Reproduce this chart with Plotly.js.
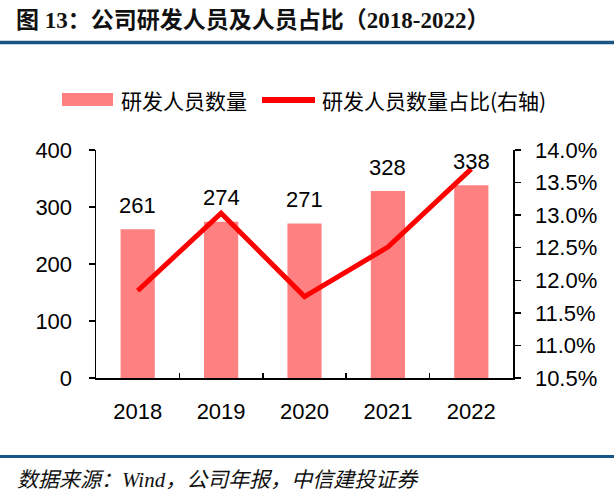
<!DOCTYPE html>
<html>
<head>
<meta charset="utf-8">
<script src="https://cdn.plot.ly/plotly-3.0.1.min.js"></script>
<style>html,body{margin:0;padding:0;background:#fff;}#chart{width:614px;height:499px;}</style>
</head>
<body>
<div id="chart"></div>
<script>
// Data
const years = ['2018', '2019', '2020', '2021', '2022'];
const staffCount = [261, 274, 271, 328, 338];
const staffRatio = [0.1184, 0.1303, 0.1175, 0.1251, 0.1371];
const barName = '研发人员数量';
const lineName = '研发人员数量占比(右轴)';
const titleText = '图 13：公司研发人员及人员占比（2018-2022）';
const sourceText = '数据来源：Wind，公司年报，中信建投证券';

const W = 614, H = 499;
const mL = 96, mR = 101, mT = 150, mB = 121;
const pw = W - mL - mR, ph = H - mT - mB;
const px = x => (x - mL) / pw;       // pixel x -> paper x
const py = y => (H - mB - y) / ph;   // pixel y -> paper y

const numFont = 'Liberation Sans, Arial, sans-serif';
const cjkFont = 'Noto Sans CJK SC, sans-serif';

const traces = [
  {
    type: 'bar', x: years, y: staffCount, name: barName,
    marker: {color: '#FF8080'}, hoverinfo: 'skip', showlegend: false
  },
  {
    type: 'scatter', mode: 'lines', x: years, y: staffRatio, name: lineName,
    yaxis: 'y2', line: {color: '#FF0000', width: 5}, hoverinfo: 'skip', showlegend: false
  }
];

const annotations = years.map((yr, i) => ({
  x: i, y: staffCount[i], xref: 'x', yref: 'y', text: String(staffCount[i]),
  showarrow: false, yanchor: 'middle', yshift: 24,
  font: {family: numFont, size: 22, color: '#000'}
}));

// legend texts
annotations.push({
  xref: 'paper', yref: 'paper', x: px(119), y: py(100), xanchor: 'left', yanchor: 'middle',
  text: barName, showarrow: false, font: {family: cjkFont, size: 21, color: '#000'}
});
annotations.push({
  xref: 'paper', yref: 'paper', x: px(320), y: py(100), xanchor: 'left', yanchor: 'middle',
  text: lineName, showarrow: false, font: {family: cjkFont, size: 21, color: '#000'}
});
// source
annotations.push({
  xref: 'paper', yref: 'paper', x: px(15), y: py(480), xanchor: 'left', yanchor: 'middle',
  text: sourceText, showarrow: false,
  font: {family: 'Liberation Serif, Noto Sans CJK SC, serif', size: 21, color: '#111', style: 'italic'}
});

const shapes = [
  {type: 'rect', xref: 'paper', yref: 'paper', x0: px(62), x1: px(113), y0: py(106), y1: py(93),
   fillcolor: '#FF8080', line: {width: 0}},
  {type: 'line', xref: 'paper', yref: 'paper', x0: px(262), x1: px(315), y0: py(100), y1: py(100),
   line: {color: '#FF0000', width: 6}},
  {type: 'line', xref: 'paper', yref: 'paper', x0: px(0), x1: px(614), y0: py(42.5), y1: py(42.5),
   line: {color: '#1B5583', width: 3.5}},
  {type: 'line', xref: 'paper', yref: 'paper', x0: px(0), x1: px(614), y0: py(456.5), y1: py(456.5),
   line: {color: '#1B5583', width: 3}}
];

const layout = {
  width: W, height: H,
  margin: {l: mL, r: mR, t: mT, b: mB, pad: 0},
  paper_bgcolor: '#fff', plot_bgcolor: '#fff',
  showlegend: false,
  bargap: 0.59,
  title: {
    text: titleText, xref: 'container', yref: 'container',
    x: 16 / W, xanchor: 'left', y: 1 - 20 / H, yanchor: 'middle',
    font: {family: 'Liberation Serif, Noto Sans CJK SC, serif', size: 23, color: '#111', weight: 'bold'}
  },
  xaxis: {
    type: 'category', range: [-0.5, years.length - 0.5], autorange: false,
    showline: true, linecolor: '#000', linewidth: 1.5,
    ticks: 'inside', tickson: 'boundaries', ticklen: 5, tickwidth: 1.5, tickcolor: '#000',
    showgrid: false, zeroline: false, ticklabelstandoff: 13, tickangle: 0,
    tickfont: {family: numFont, size: 22, color: '#000'}, fixedrange: true
  },
  yaxis: {
    range: [0, 400], autorange: false, dtick: 100, showline: true, linecolor: '#000', linewidth: 1.5,
    ticks: 'outside', ticklen: 6, tickwidth: 1.5, tickcolor: '#000',
    showgrid: false, zeroline: false, ticklabelstandoff: 12,
    tickfont: {family: numFont, size: 22, color: '#000'}, fixedrange: true
  },
  yaxis2: {
    overlaying: 'y', side: 'right', range: [0.105, 0.14], autorange: false, dtick: 0.005, tickformat: '.1%',
    showline: true, linecolor: '#000', linewidth: 1.5,
    ticks: 'outside', ticklen: 6, tickwidth: 1.5, tickcolor: '#000',
    showgrid: false, zeroline: false, ticklabelstandoff: 10,
    tickfont: {family: numFont, size: 22, color: '#000'}, fixedrange: true
  },
  annotations: annotations,
  shapes: shapes
};

Plotly.newPlot('chart', traces, layout, {displayModeBar: false, staticPlot: true});
</script>
</body>
</html>
